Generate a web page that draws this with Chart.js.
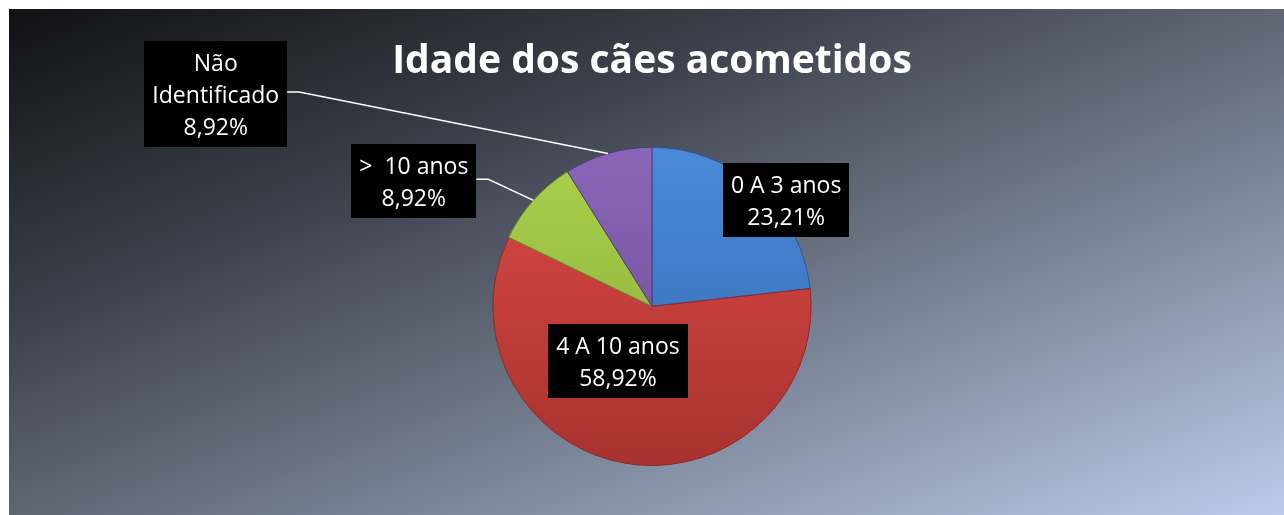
<!DOCTYPE html>
<html>
<head>
<meta charset="utf-8">
<script src="https://cdn.jsdelivr.net/npm/chart.js@4/dist/chart.umd.min.js"></script>
<style>
  html, body { margin: 0; padding: 0; background: #fff; }
  #wrap {
    position: absolute; left: 9px; top: 9px; width: 1275px; height: 506px;
    background: linear-gradient(to bottom right, #111114 0%, #3a3f49 30%, #626978 52%, #8c98ae 75%, #bccbea 100%);
  }
</style>
</head>
<body>
<div id="wrap"><canvas id="chart-idade"></canvas></div>
<script>
// data
var categories = ["0 A 3 anos", "4 A 10 anos", ">  10 anos", ["Não", "Identificado"]];
var percentages = [23.21, 58.92, 8.92, 8.92];
var chartTitle = "Idade dos cães acometidos";

// slice colours: [light (top), dark (bottom), outline]
var sliceColors = [
  ["#4a8ad8", "#3468b0", "#2b5890"],
  ["#dc4a45", "#a8322f", "#8c2a28"],
  ["#aad24c", "#86a83a", "#6e8c2e"],
  ["#8a66b8", "#6a4a92", "#553b78"]
];

// label box centre, in pie radius units from the pie centre; third flag = leader line
var labelLayout = [
  [0.843, -0.667, false],
  [-0.214, 0.346, false],
  [-1.497, -0.786, true],
  [-2.742, -1.335, true]
];

/**
 * Formats a percentage with a decimal comma.
 */
function formatPct(v) {
  return v.toFixed(2).replace(".", ",") + "%";
}

var sliceLabels = {
  id: "sliceLabels",
  afterDatasetsDraw: function (chart) {
    var ctx = chart.ctx;
    var meta = chart.getDatasetMeta(0);
    var lineH = 32;
    ctx.save();
    ctx.font = '23px "Open Sans"';
    meta.data.forEach(function (arc, i) {
      var r = arc.outerRadius;
      var pos = labelLayout[i];
      var cx = arc.x + pos[0] * r;
      var cy = arc.y + pos[1] * r;
      var lines = [].concat(categories[i], formatPct(percentages[i]));
      var w = Math.max.apply(null, lines.map(function (l) { return ctx.measureText(l).width; })) + 16;
      var h = lines.length * lineH + 10;

      if (pos[2]) {
        var mid = (arc.startAngle + arc.endAngle) / 2;
        var ex = arc.x + Math.cos(mid) * r;
        var ey = arc.y + Math.sin(mid) * r;
        ctx.strokeStyle = "#ffffff";
        ctx.lineWidth = 1.5;
        ctx.beginPath();
        ctx.moveTo(cx + w / 2, cy - 2);
        ctx.lineTo(cx + w / 2 + 12, cy - 2);
        ctx.lineTo(ex, ey);
        ctx.stroke();
      }

      ctx.fillStyle = "#000000";
      ctx.fillRect(Math.round(cx - w / 2), Math.round(cy - h / 2), Math.round(w), Math.round(h));
      ctx.fillStyle = "#ffffff";
      ctx.textAlign = "center";
      ctx.textBaseline = "middle";
      lines.forEach(function (l, k) {
        ctx.fillText(l, cx, cy - h / 2 + 7 + lineH * k + lineH / 2);
      });
    });
    ctx.restore();
  }
};

function sliceFill(c) {
  var chart = c.chart;
  var area = chart.chartArea;
  var col = sliceColors[c.dataIndex];
  if (!area) {
    return col[0];
  }
  var g = chart.ctx.createLinearGradient(0, area.top, 0, area.bottom);
  g.addColorStop(0, col[0]);
  g.addColorStop(1, col[1]);
  return g;
}

var idadeChart = new Chart(document.getElementById("chart-idade"), {
  type: "pie",
  data: {
    labels: categories,
    datasets: [
      {
        data: percentages,
        backgroundColor: sliceFill,
        borderColor: sliceColors.map(function (c) { return c[2]; }),
        borderWidth: 1
      }
    ]
  },
  options: {
    responsive: true,
    maintainAspectRatio: false,
    animation: false,
    layout: {
      padding: { top: 0, bottom: 49, left: 11, right: 0 }
    },
    plugins: {
      legend: { display: false },
      tooltip: { enabled: false },
      title: {
        display: true,
        text: chartTitle,
        color: "#ffffff",
        font: { family: "Open Sans", size: 39, weight: "bold" },
        padding: { top: 29, bottom: 62 }
      }
    }
  },
  plugins: [sliceLabels]
});
</script>
</body>
</html>
